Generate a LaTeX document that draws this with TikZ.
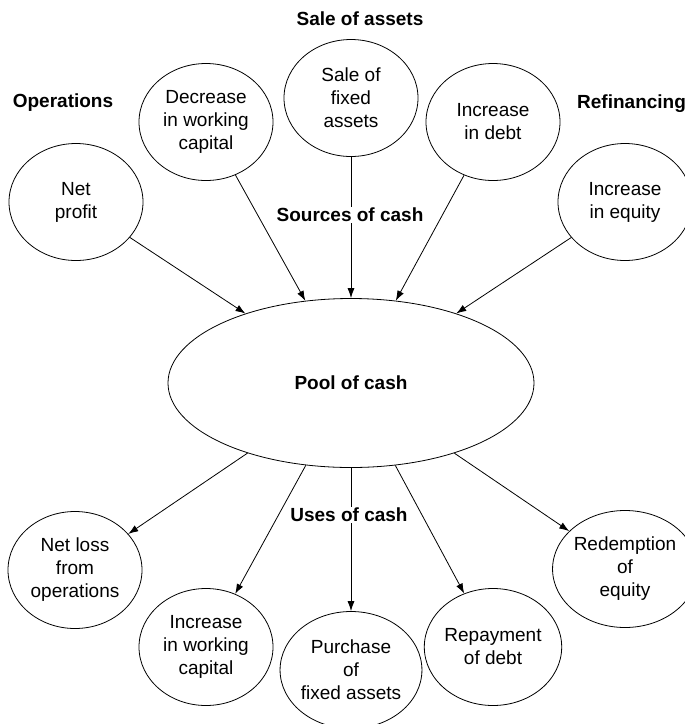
\documentclass[tikz,border=0pt]{standalone}
\usepackage{fontspec}
\setmainfont{Liberation Sans}
\usetikzlibrary{shapes.geometric,arrows.meta}
\begin{document}
\begin{tikzpicture}[x=1pt,y=-1pt,
  bub/.style={draw,ellipse,minimum width=134pt,minimum height=117pt,inner sep=0pt,align=center,font=\fontsize{19}{23}\selectfont,line width=0.8pt},
  lbl/.style={font=\fontsize{19}{23}\selectfont\bfseries,inner sep=2pt},
  arr/.style={-{Latex[length=10pt,width=7pt]},line width=0.8pt,shorten >=0pt}]
\clip (0,0) rectangle (685,724);
\useasboundingbox (0,0) rectangle (685,724);
% sources
\node[bub] (np) at (76,202) {Net\\profit};
\node[bub] (dwc) at (206,122) {Decrease\\in working\\capital};
\node[bub] (sfa) at (351,98) {Sale of\\fixed\\assets};
\node[bub] (id) at (493,122) {Increase\\in debt};
\node[bub] (ie) at (625,202) {Increase\\in equity};
% pool
\node[draw,ellipse,minimum width=366pt,minimum height=169pt,inner sep=0pt,line width=0.8pt,lbl] (pool) at (351,383) {Pool of cash};
% uses
\node[bub] (nl) at (75,570) {Net loss\\from\\operations};
\node[bub] (iwc) at (206,647) {Increase\\in working\\capital};
\node[bub] (pfa) at (351,670) {Purchase\\of\\fixed assets};
\node[bub] (rd) at (493,647) {Repayment\\of debt};
\node[bub] (re) at (625,569) {Redemption\\of\\equity};
% connectors
\draw[arr] (np) -- (pool);
\draw[arr] (dwc) -- (pool);
\draw[arr] (sfa) -- (pool);
\draw[arr] (id) -- (pool);
\draw[arr] (ie) -- (pool);
\draw[arr] (pool) -- (nl);
\draw[arr] (pool) -- (iwc);
\draw[arr] (pool) -- (pfa);
\draw[arr] (pool) -- (rd);
\draw[arr] (pool) -- (re);
% labels
\node[lbl] (sa) at (360,19) {Sale of assets};
\node[lbl] (op) at (63,103) {Operations};
\node[lbl,anchor=west] (rf) at (575,104) {Refinancing};
\node[lbl,fill=white,inner sep=1pt] (sc) at (350,215) {Sources of cash};
\node[lbl,fill=white,inner sep=1pt] (uc) at (349,515) {Uses of cash};
\end{tikzpicture}
\end{document}
